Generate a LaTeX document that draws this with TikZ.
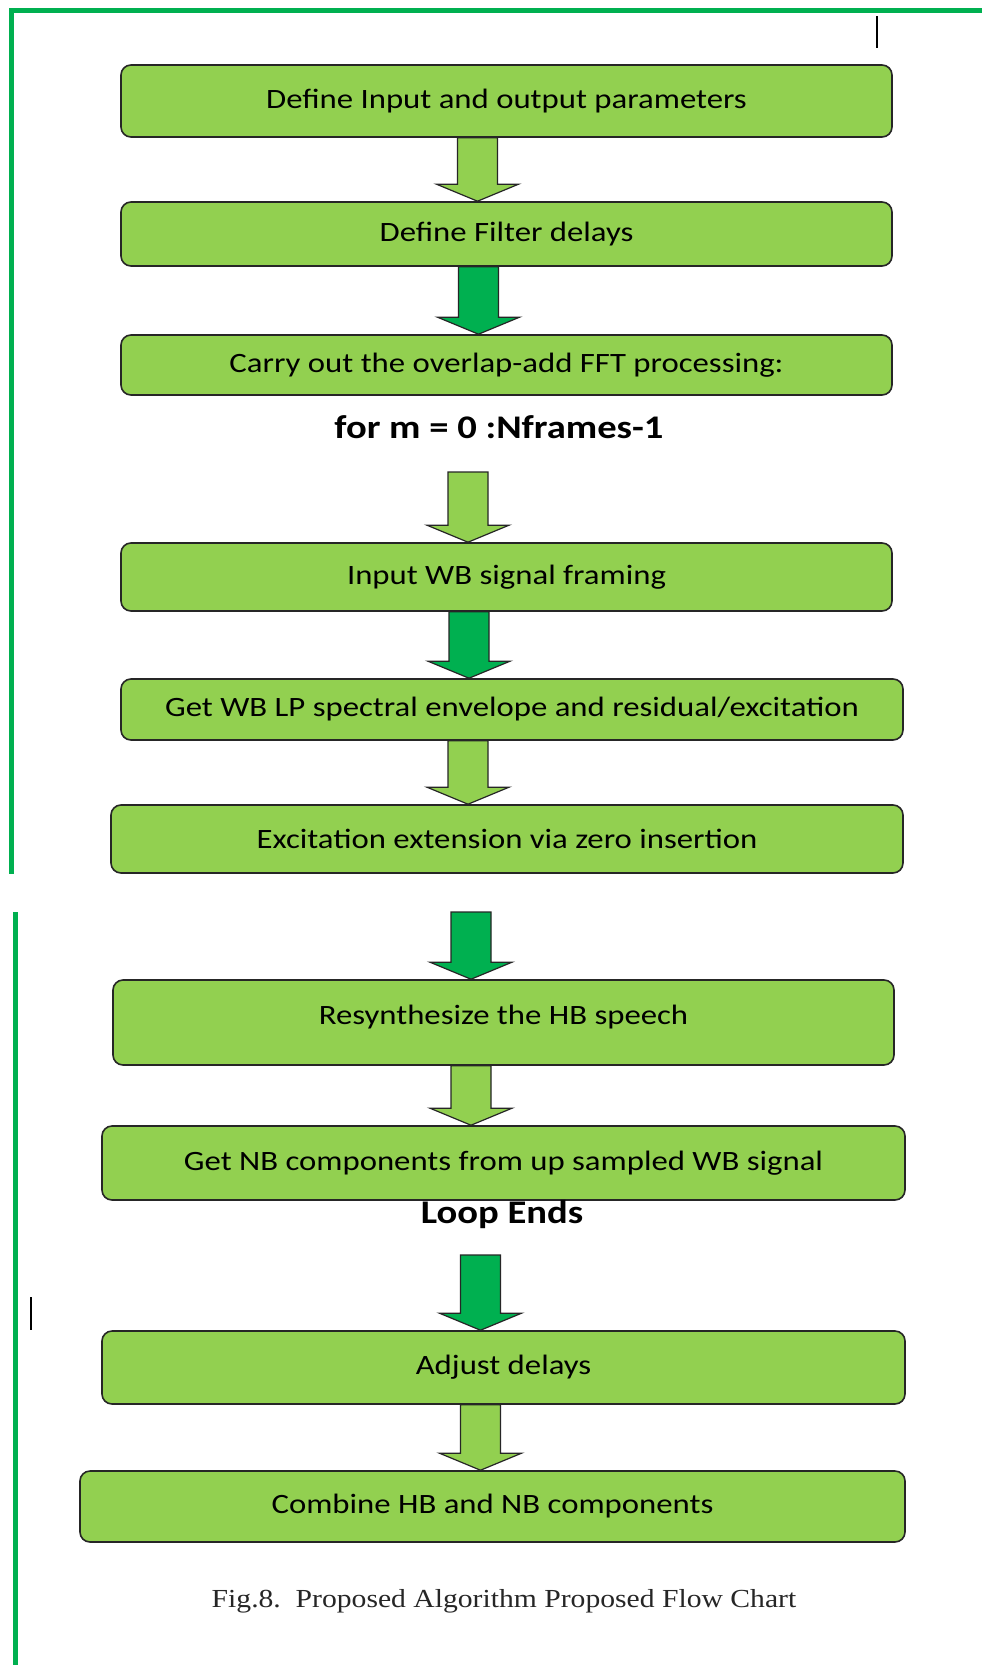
\documentclass[tikz,border=0pt]{standalone}
\usepackage{fontspec}
\setmainfont{Carlito}
\newfontfamily\boxfont{Carlito}[FakeStretch=1.17]
\newfontfamily\capfont{Liberation Serif}[FakeStretch=1.14]
\usetikzlibrary{calc}

\definecolor{lightgreen}{HTML}{92D050}
\definecolor{darkgreen}{HTML}{00B050}
\definecolor{edgegray}{HTML}{262626}

\tikzset{
  stepbox/.style={draw=edgegray, line width=1.6pt, fill=lightgreen,
    rounded corners=10pt, inner sep=0pt, text=black,
    font=\boxfont\fontsize{28}{32}\selectfont},
  looptext/.style={inner sep=0pt, text=black,
    font=\boxfont\bfseries\fontsize{33}{38}\selectfont},
  lightarrow/.style={draw=edgegray, line width=1.2pt, fill=lightgreen, line join=miter},
  darkarrow/.style={draw=edgegray, line width=1.2pt, fill=darkgreen, line join=miter},
  frameline/.style={draw=darkgreen, line width=5pt, line join=miter},
  cursor/.style={draw=black, line width=1.5pt}
}

% block arrow: #1 style, #2 x position (pt), #3 start anchor, #4 tip anchor
\newcommand{\blockarrow}[4]{%
  \draw[#1] let \p1=(#3), \p2=(#4) in
    (#2pt-20pt,\y1) -- (#2pt+20pt,\y1) -- (#2pt+20pt,\y2+17pt)
    -- (#2pt+41pt,\y2+17pt) -- (#2pt,\y2) -- (#2pt-41pt,\y2+17pt)
    -- (#2pt-20pt,\y2+17pt) -- cycle;}

\begin{document}
\begin{tikzpicture}[x=1pt,y=-1pt]
\useasboundingbox[fill=white] (0,0) rectangle (982,1665);

% page frame
\draw[frameline] (982,10.5) -- (11,10.5) -- (11,874);
\draw[frameline] (15,912) -- (15,1665);
\draw[cursor] (877,16) -- (877,48);
\draw[cursor] (31,1297) -- (31,1330);

% process steps
\node[stepbox, minimum width=771pt, minimum height=72pt] (b1) at (506.5,101) {Define Input and output parameters};
\node[stepbox, minimum width=771pt, minimum height=64pt] (b2) at (506.5,234) {Define Filter delays};
\node[stepbox, minimum width=771pt, minimum height=60pt] (b3) at (506.5,365) {Carry out the overlap-add FFT processing:};
\node[looptext] (for) at (499,427) {for m = 0 :Nframes-1};
\node[stepbox, minimum width=771pt, minimum height=68pt] (b4) at (506.5,577) {Input WB signal framing};
\node[stepbox, minimum width=782pt, minimum height=61pt] (b5) at (512,709.5) {Get WB LP spectral envelope and residual/excitation};
\node[stepbox, minimum width=792pt, minimum height=68pt] (b6) at (507,839) {Excitation extension via zero insertion};
\node[stepbox, minimum width=781pt, minimum height=85pt, text depth=16pt] (b7) at (503.5,1022.5) {Resynthesize the HB speech};
\node[stepbox, minimum width=803pt, minimum height=74pt] (b8) at (503.5,1163) {Get NB components from up sampled WB signal};
\node[looptext] (loop) at (502,1215) {Loop Ends};
\node[stepbox, minimum width=803pt, minimum height=73pt] (b9) at (503.5,1367.5) {Adjust delays};
\node[stepbox, minimum width=825pt, minimum height=71pt] (b10) at (492.5,1506.5) {Combine HB and NB components};

% free starts of arrows
\coordinate (s3) at (468,472);
\coordinate (s6) at (471,912);
\coordinate (s8) at (480.5,1255);

% arrows
\blockarrow{lightarrow}{477.5}{b1.south}{b2.north}
\blockarrow{darkarrow}{478.5}{b2.south}{b3.north}
\blockarrow{lightarrow}{468}{s3}{b4.north}
\blockarrow{darkarrow}{469}{b4.south}{b5.north}
\blockarrow{lightarrow}{468}{b5.south}{b6.north}
\blockarrow{darkarrow}{471}{s6}{b7.north}
\blockarrow{lightarrow}{471}{b7.south}{b8.north}
\blockarrow{darkarrow}{480.5}{s8}{b9.north}
\blockarrow{lightarrow}{480.5}{b9.south}{b10.north}

% caption
\node[inner sep=0pt, text=black!85, font=\capfont\fontsize{26}{30}\selectfont] (cap) at (504,1601)
  {Fig.8.\ \ Proposed Algorithm Proposed Flow Chart};
\end{tikzpicture}
\end{document}
